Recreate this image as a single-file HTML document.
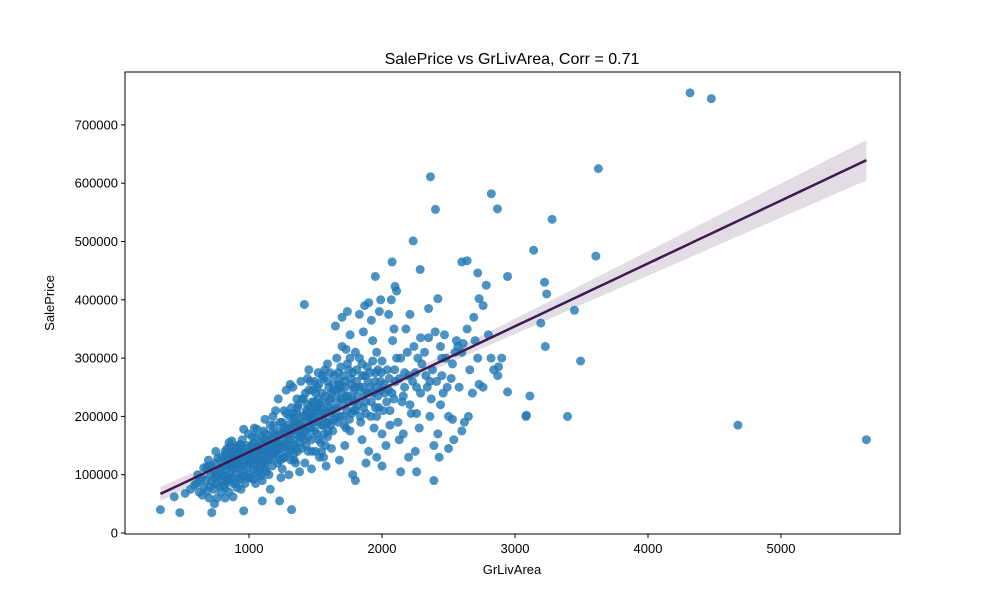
<!DOCTYPE html>
<html><head><meta charset="utf-8">
<style>
body{margin:0;background:#fff;}
svg text{font-family:"Liberation Sans",sans-serif;fill:#000;}
</style></head>
<body>
<svg id="chart" width="1000" height="600">
<rect width="1000" height="600" fill="#fff"/>
<text x="512" y="64" font-size="16" text-anchor="middle">SalePrice vs GrLivArea, Corr = 0.71</text>
<g id="band"></g>
<g id="points"></g>
<g id="line"></g>
<rect x="125" y="72" width="775" height="462" fill="none" stroke="#000" stroke-width="1"/>
<g id="xticks"></g>
<g id="yticks"></g>
<text x="512" y="574" font-size="13" text-anchor="middle">GrLivArea</text>
<text transform="translate(54,303) rotate(-90)" font-size="13" text-anchor="middle">SalePrice</text>
</svg>
<script>
const xTicks=[1000,2000,3000,4000,5000];
const yTicks=[0,100000,200000,300000,400000,500000,600000,700000];
const areas=[4316,4476,4676,5642,3627,2364,2822,2402,2868,3279,2234,3140,3608,2640,2076,2287,2720,2944,1950,3222,2784,2098,2110,3238,1416,2420,2730,3447,3194,3228,3493,3082,3086,3112,3395,2944,2730,2876,2600,
334,480,520,438,720,960,1320,1230,1100,2260,2390,2140,2600,2500,2200,2000,1800,
605,630,660,680,690,710,720,740,750,760,770,780,790,800,700,740,660,750,
810,820,830,840,850,860,870,880,890,900,910,920,930,940,950,960,970,980,990,995,850,880,900,940,960,820,870,990,920,860,
1010,1020,1030,1040,1050,1060,1070,1080,1090,1100,1110,1120,1130,1140,1150,1160,1170,1180,1190,1200,1010,1050,1100,1150,1180,1120,1040,1090,1130,1170,1060,1200,1160,
1210,1220,1230,1240,1250,1260,1270,1280,1290,1300,1310,1320,1330,1340,1350,1360,1370,1380,1390,1400,1250,1300,1350,1280,1330,1380,1220,1310,1390,1240,1360,1270,1400,1340,
1410,1420,1430,1440,1450,1460,1470,1480,1490,1500,1510,1520,1530,1540,1550,1560,1570,1580,1590,1600,1420,1470,1530,1580,1450,1500,1550,1600,1480,1560,1440,1520,1590,
1610,1620,1630,1640,1650,1660,1670,1680,1690,1700,1710,1720,1730,1740,1750,1760,1770,1780,1790,1800,1620,1680,1700,1740,1650,1720,1780,1610,1760,1690,1730,1800,
1810,1820,1830,1840,1850,1860,1870,1880,1890,1900,1910,1920,1930,1940,1950,1960,1970,1980,1990,2000,1850,1900,1960,1870,1920,1990,1830,1880,1950,2000,
2020,2040,2060,2080,2100,2120,2140,2160,2180,2200,2220,2240,2260,2280,2300,2050,2090,2130,2170,2210,2250,2290,2030,2070,2150,2230,
2320,2340,2360,2380,2400,2420,2440,2460,2480,2500,2520,2540,2560,2580,2600,2620,2640,2660,2680,2700,2350,2450,2550,2650,2430,2530,2610,2470,2690,2390,
2720,2760,2800,2840,2870,2900,2760,2820,
805,815,825,835,845,855,865,875,885,895,905,915,925,935,945,955,965,975,985,998,812,842,872,902,932,962,992,828,888,948,
1005,1015,1025,1035,1045,1055,1065,1075,1085,1095,1105,1115,1125,1135,1145,1155,1165,1175,1185,1195,1025,1075,1125,1175,1035,1085,1135,1185,1015,1115,
1205,1215,1225,1235,1245,1255,1265,1275,1285,1295,1305,1315,1325,1335,1345,1355,1365,1375,1385,1395,1215,1265,1315,1365,1235,1285,1335,1385,1255,1305,
1405,1415,1425,1435,1445,1455,1465,1475,1485,1495,1505,1515,1525,1535,1545,1555,1565,1575,1585,1595,1425,1475,1525,1575,1445,1495,1545,1595,1465,1515,
1605,1615,1625,1635,1645,1655,1665,1675,1685,1695,1705,1715,1725,1735,1745,1755,1765,1775,1785,1795,
1815,1835,1855,1875,1895,1915,1935,1955,1975,1995,2015,2035,2055,2075,2095,
615,645,675,695,715,735,755,765,785,795,
1310,1330,1350,1370,1390,1410,1430,1450,1470,1490,1510,1530,1550,1570,1590,1610,1630,1650,1670,1690,1710,1730,1750,1770,1790,1810,1830,1850,1870,1890,1910,1930,1950,1970,1990,1360,1460,1560,1660,1760,1860,1960,
2010,2050,2090,2130,2170,2210,2250,2290,2330,2370,2410,2450,2490,2530,2570,2110,2190,2270,2350,2440,2060,2160,2260,2360,
560,590,625,650,685,710,735,760,790,820,850,880,910,940,970,1000,1030,1060,1090,1120];
const prices=[755,745,185,160,625,611,582,555,556,538,501,485,475,467,465,452,446,440,440,430,425,423,415,410,392,402,402,382,360,320,295,200,202,235,200,242,255,285,465,
40,35,68,62,35,38,40,55,55,105,90,105,175,145,130,115,90,
85,90,78,110,115,100,88,95,120,60,105,80,130,98,60,50,112,140,
115,140,90,125,155,105,135,118,145,100,128,150,110,138,160,120,132,145,112,170,70,62,85,75,178,60,158,95,130,148,
130,150,118,140,165,125,145,110,155,135,175,120,148,160,138,185,128,150,170,140,95,85,90,100,200,195,180,118,105,160,178,210,75,
155,135,175,145,190,160,130,205,150,170,140,215,160,185,145,230,175,155,200,165,110,100,120,245,250,105,230,255,260,95,190,180,230,125,
175,200,150,220,180,260,160,210,190,240,170,275,200,155,225,185,280,210,165,250,120,110,130,115,280,140,270,190,245,130,265,230,290,
205,240,175,270,215,300,190,255,230,320,200,260,180,290,225,340,205,275,245,310,145,125,370,380,355,150,100,275,175,285,315,210,
260,220,300,190,270,345,240,205,285,395,250,225,330,180,275,310,235,380,260,170,160,140,130,390,365,400,375,120,215,295,
240,280,210,330,260,190,300,235,350,270,205,320,250,180,290,375,350,160,275,375,140,335,150,400,225,260,
310,250,200,280,345,170,320,240,300,200,265,160,330,250,310,190,350,280,240,330,385,270,310,200,130,195,325,340,370,150,
300,250,340,280,270,300,390,300,
100,125,108,145,118,132,95,128,110,140,118,138,95,125,145,108,135,122,150,128,82,92,115,132,152,98,138,135,125,118,
118,140,128,155,120,138,150,128,142,165,120,145,132,155,125,150,138,172,135,155,165,98,170,115,108,125,140,185,125,160,
140,165,150,125,170,148,175,155,138,185,160,145,175,195,150,170,140,185,165,145,120,210,125,215,190,170,135,180,128,200,
190,160,175,205,165,195,180,140,200,175,215,190,160,220,185,200,170,235,190,215,240,225,255,150,140,260,140,175,200,210,
225,185,210,245,195,230,215,260,200,240,225,185,250,210,235,195,265,230,210,250,
235,200,250,225,260,200,240,250,215,275,255,225,265,240,280,
100,95,90,125,115,108,98,128,112,88,
180,205,190,220,185,230,210,245,195,225,250,215,240,205,260,230,255,200,275,250,270,235,280,255,225,280,250,290,270,240,275,295,260,280,245,205,215,265,245,300,215,200,
210,245,230,265,250,220,275,240,270,230,260,300,250,290,320,300,310,300,335,220,185,170,205,260,
75,82,70,65,72,80,75,85,70,78,90,85,78,92,85,100,92,105,98,110].map(v=>v*1000);

const NS='http://www.w3.org/2000/svg';
const X0=125,X1=900,Y0=72,Y1=534;
const xs=v=>116+v*0.133;
const ys=v=>533-v*0.000583;
function mk(t,a,p){const e=document.createElementNS(NS,t);for(const k in a)e.setAttribute(k,a[k]);(p||document.getElementById('chart')).appendChild(e);return e;}

const pg=document.getElementById('points');
for(let i=0;i<areas.length;i++){
  const c=mk('circle',{cx:xs(areas[i]),cy:ys(prices[i]),r:4.5,fill:'#1f77b4','fill-opacity':0.8},pg);
  
  
}
const n=areas.length;
const mx=areas.reduce((a,b)=>a+b,0)/n, my=prices.reduce((a,b)=>a+b,0)/n;
let sxx=0,sxy=0;for(let i=0;i<n;i++){sxx+=(areas[i]-mx)**2;sxy+=(areas[i]-mx)*(prices[i]-my);}
const slope=sxy/sxx, icpt=my-slope*mx;
let sse=0;for(let i=0;i<n;i++){sse+=(prices[i]-icpt-slope*areas[i])**2;}
const s=Math.sqrt(sse/(n-2));
const xmin=Math.min(...areas), xmax=Math.max(...areas);
const up=[],lo=[],ln=[];
for(let k=0;k<=50;k++){
  const x=xmin+(xmax-xmin)*k/50, y=icpt+slope*x;
  const se=1.96*s*Math.sqrt(1/n+(x-mx)**2/sxx);
  up.push(xs(x)+','+ys(y+se)); lo.unshift(xs(x)+','+ys(y-se)); ln.push(xs(x)+','+ys(y));
}
const band=mk('polygon',{points:up.concat(lo).join(' '),fill:'#3f1a50','fill-opacity':0.15},document.getElementById('band'));


const rl=mk('polyline',{points:ln.join(' '),fill:'none',stroke:'#3f1a50','stroke-width':2.5},document.getElementById('line'));



const xg=document.getElementById('xticks');
xTicks.forEach(v=>{
  const x=xs(v);
  const t=mk('line',{x1:x,x2:x,y1:Y1,y2:Y1+4,stroke:'#000'},xg);
  
  
  const l=mk('text',{x:x,y:Y1+19,'font-size':13,'text-anchor':'middle'},xg);
  l.textContent=v;
  
  
});
const yg=document.getElementById('yticks');
yTicks.forEach(v=>{
  const y=ys(v);
  const t=mk('line',{x1:X0-4,x2:X0,y1:y,y2:y,stroke:'#000'},yg);
  
  
  const l=mk('text',{x:X0-7,y:y+4.5,'font-size':13,'text-anchor':'end'},yg);
  l.textContent=v;
  
  
});
</script>
</body></html>
